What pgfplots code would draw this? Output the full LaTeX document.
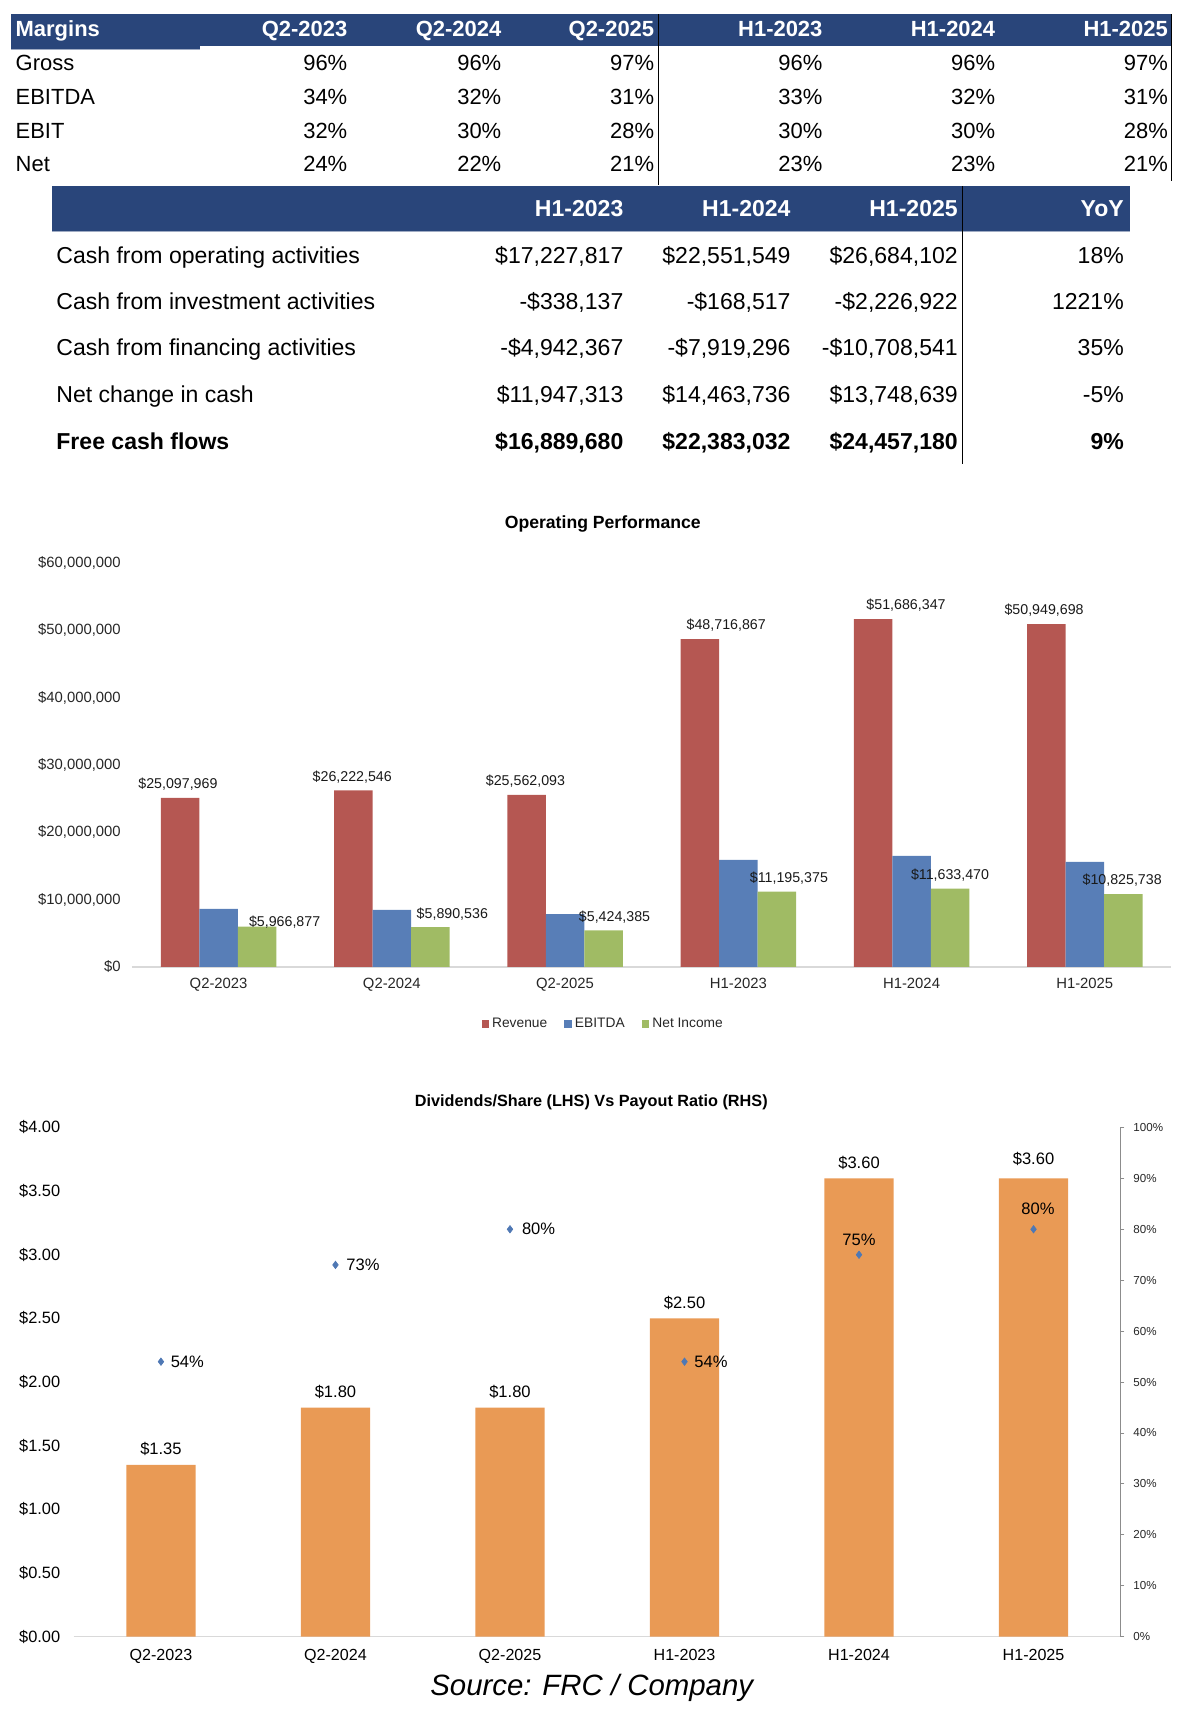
\documentclass[border=0pt]{standalone}
\usepackage{fontspec}
\setmainfont{Liberation Sans}
\usepackage{pgfplots}
\pgfplotsset{compat=1.18}
\usepackage{pgfplotstable}

\definecolor{hdr}{RGB}{41,69,122}
\definecolor{rev}{RGB}{181,87,82}
\definecolor{ebitda}{RGB}{88,126,183}
\definecolor{netinc}{RGB}{160,187,100}
\definecolor{divbar}{RGB}{233,154,85}
\definecolor{payout}{RGB}{79,120,180}
\definecolor{axgray}{RGB}{217,217,217}

\newcommand\tA{\fontsize{14.2}{17}\selectfont}
\newcommand\tB{\fontsize{14.9}{18}\selectfont}

\pgfplotsset{sqlegend/.style={legend image code/.code={\fill[##1] (0mm,-0.85mm) rectangle (1.7mm,0.85mm);}}}

% operating performance
\pgfplotstableread{
x y lab dx dy
0 25097969 \$25,097,969 -2 0
1 26222546 \$26,222,546 -1 0
2 25562093 \$25,562,093 -1 0
3 48716867 \$48,716,867 24 0
4 51686347 \$51,686,347 30 0
5 50949698 \$50,949,698 -2 0
}\revtab
\pgfplotstableread{
x y
0 8600000
1 8450000
2 7850000
3 15900000
4 16500000
5 15600000
}\ebitdatab
\pgfplotstableread{
x y lab dx dy
0 5966877 \$5,966,877 25 -8
1 5890536 \$5,890,536 20 0
2 5424385 \$5,424,385 10 0
3 11195375 \$11,195,375 11 0
4 11633470 \$11,633,470 0 0
5 10825738 \$10,825,738 -1 0
}\nitab

% dividends
\pgfplotstableread{
x y lab dy
0 1.35 \$1.35 0
1 1.80 \$1.80 0
2 1.80 \$1.80 0
3 2.50 \$2.50 0
4 3.60 \$3.60 0
5 3.60 \$3.60 3
}\divtab
\pgfplotstableread{
x y lab dx dy
0 54 54\% 24 0
1 73 73\% 25 0
2 80 80\% 26 0
3 54 54\% 24 0
4 75 75\% 0 14
5 80 80\% 4 19
}\paytab

\begin{document}
\begin{tikzpicture}
\useasboundingbox (0mm,0mm) rectangle (267.75mm,-391.85mm);

% ---- margins table
\fill[hdr] (2.5mm,-3.25mm) rectangle (266.25mm,-10.5mm);
\fill[hdr] (2.5mm,-10.5mm) rectangle (45.5mm,-11.2mm);
\draw[hdr!45,line width=0.5pt] (2.5mm,-11.2mm) -- (45.5mm,-11.2mm);
\node[anchor=base west,inner sep=0pt,text=white,font=\tA\bfseries] at (3.5mm,-8.28mm) {Margins};
\foreach \t/\xx in {Q2-2023/79,Q2-2024/114,Q2-2025/148.75,H1-2023/187,H1-2024/226.25,H1-2025/265.5}
  \node[anchor=base east,inner sep=0pt,text=white,font=\tA\bfseries] at (\xx mm,-8.28mm) {\t};
\foreach \lab/\a/\b/\c/\d/\e/\f [count=\i] in {Gross/96/96/97/96/96/97,EBITDA/34/32/31/33/32/31,EBIT/32/30/28/30/30/28,Net/24/22/21/23/23/21}{
  \pgfmathsetmacro\yy{-16.03-7.67*(\i-1)}
  \node[anchor=base west,inner sep=0pt,font=\tA] at (3.5mm,\yy mm) {\lab};
  \node[anchor=base east,inner sep=0pt,font=\tA] at (79mm,\yy mm) {\a\%};
  \node[anchor=base east,inner sep=0pt,font=\tA] at (114mm,\yy mm) {\b\%};
  \node[anchor=base east,inner sep=0pt,font=\tA] at (148.75mm,\yy mm) {\c\%};
  \node[anchor=base east,inner sep=0pt,font=\tA] at (187mm,\yy mm) {\d\%};
  \node[anchor=base east,inner sep=0pt,font=\tA] at (226.25mm,\yy mm) {\e\%};
  \node[anchor=base east,inner sep=0pt,font=\tA] at (265.5mm,\yy mm) {\f\%};
}
\draw[line width=0.6pt] (149.6mm,-3.25mm) -- (149.6mm,-42mm);
\draw[line width=0.6pt] (266.25mm,-3.25mm) -- (266.25mm,-41.25mm);

% ---- cash flow table
\fill[hdr] (11.75mm,-42.3mm) rectangle (256.75mm,-52.6mm);
\draw[hdr!45,line width=0.5pt] (11.75mm,-52.7mm) -- (256.75mm,-52.7mm);
\foreach \t/\xx in {H1-2023/141.75,H1-2024/179.75,H1-2025/217.75,YoY/255.5}
  \node[anchor=base east,inner sep=0pt,text=white,font=\tB\bfseries] at (\xx mm,-49.13mm) {\t};
\node[anchor=base west,inner sep=0pt,font=\tB] at (12.75mm,-60mm) {Cash from operating activities};
\node[anchor=base east,inner sep=0pt,font=\tB] at (141.75mm,-60mm) {\$17,227,817};
\node[anchor=base east,inner sep=0pt,font=\tB] at (179.75mm,-60mm) {\$22,551,549};
\node[anchor=base east,inner sep=0pt,font=\tB] at (217.75mm,-60mm) {\$26,684,102};
\node[anchor=base east,inner sep=0pt,font=\tB] at (255.5mm,-60mm) {18\%};
\node[anchor=base west,inner sep=0pt,font=\tB] at (12.75mm,-70.38mm) {Cash from investment activities};
\node[anchor=base east,inner sep=0pt,font=\tB] at (141.75mm,-70.38mm) {-\$338,137};
\node[anchor=base east,inner sep=0pt,font=\tB] at (179.75mm,-70.38mm) {-\$168,517};
\node[anchor=base east,inner sep=0pt,font=\tB] at (217.75mm,-70.38mm) {-\$2,226,922};
\node[anchor=base east,inner sep=0pt,font=\tB] at (255.5mm,-70.38mm) {1221\%};
\node[anchor=base west,inner sep=0pt,font=\tB] at (12.75mm,-80.88mm) {Cash from financing activities};
\node[anchor=base east,inner sep=0pt,font=\tB] at (141.75mm,-80.88mm) {-\$4,942,367};
\node[anchor=base east,inner sep=0pt,font=\tB] at (179.75mm,-80.88mm) {-\$7,919,296};
\node[anchor=base east,inner sep=0pt,font=\tB] at (217.75mm,-80.88mm) {-\$10,708,541};
\node[anchor=base east,inner sep=0pt,font=\tB] at (255.5mm,-80.88mm) {35\%};
\node[anchor=base west,inner sep=0pt,font=\tB] at (12.75mm,-91.38mm) {Net change in cash};
\node[anchor=base east,inner sep=0pt,font=\tB] at (141.75mm,-91.38mm) {\$11,947,313};
\node[anchor=base east,inner sep=0pt,font=\tB] at (179.75mm,-91.38mm) {\$14,463,736};
\node[anchor=base east,inner sep=0pt,font=\tB] at (217.75mm,-91.38mm) {\$13,748,639};
\node[anchor=base east,inner sep=0pt,font=\tB] at (255.5mm,-91.38mm) {-5\%};
\node[anchor=base west,inner sep=0pt,font=\tB\bfseries] at (12.75mm,-102.13mm) {Free cash flows};
\node[anchor=base east,inner sep=0pt,font=\tB\bfseries] at (141.75mm,-102.13mm) {\$16,889,680};
\node[anchor=base east,inner sep=0pt,font=\tB\bfseries] at (179.75mm,-102.13mm) {\$22,383,032};
\node[anchor=base east,inner sep=0pt,font=\tB\bfseries] at (217.75mm,-102.13mm) {\$24,457,180};
\node[anchor=base east,inner sep=0pt,font=\tB\bfseries] at (255.5mm,-102.13mm) {9\%};
\draw[line width=0.6pt] (218.75mm,-42.3mm) -- (218.75mm,-105.5mm);

% ---- operating performance chart
\node[font=\fontsize{11.4}{13}\selectfont\bfseries] at (137mm,-119mm) {Operating Performance};
\begin{axis}[
  at={(30mm,-219.75mm)}, anchor=south west,
  width=236.25mm, height=91.75mm, scale only axis,
  xmin=-0.5, xmax=5.5, ymin=0, ymax=60000000,
  scaled y ticks=false,
  ybar=0pt, bar width=8.75mm,
  xtick={0,1,2,3,4,5},
  xticklabels={Q2-2023,Q2-2024,Q2-2025,H1-2023,H1-2024,H1-2025},
  ytick={0,10000000,20000000,30000000,40000000,50000000,60000000},
  yticklabels={\$0,{\$10,000,000},{\$20,000,000},{\$30,000,000},{\$40,000,000},{\$50,000,000},{\$60,000,000}},
  axis x line*=bottom, axis y line*=left,
  x axis line style={draw=axgray,line width=0.9pt,-},
  y axis line style={draw=none},
  major tick length=0pt,
  tick label style={font=\fontsize{9.6}{11}\selectfont, text=black!85},
  yticklabel style={inner sep=0pt, xshift=-2.5mm},
  xticklabel style={inner sep=0pt, yshift=-2.6mm},
  clip=false,
  legend style={at={(0.5,0)}, anchor=center, xshift=-10.9mm, yshift=-13mm,
    draw=none, fill=none, font=\fontsize{8.9}{10}\selectfont, text=black!85,
    legend columns=3, /tikz/every even column/.append style={column sep=3.2mm}},
]
\addplot[fill=rev, draw=none, sqlegend,
  nodes near coords, point meta=explicit symbolic,
  visualization depends on={\thisrow{dx} \as \dx},
  visualization depends on={\thisrow{dy} \as \dy},
  every node near coord/.append style={font=\fontsize{9.2}{10}\selectfont, text=black!90,
    inner sep=0pt, anchor=south, xshift={(\dx)*0.25mm}, yshift={1.6mm+(\dy)*0.25mm}}]
  table[x=x, y=y, meta=lab] {\revtab};
\addplot[fill=ebitda, draw=none, sqlegend] table[x=x, y=y] {\ebitdatab};
\addplot[fill=netinc, draw=none, sqlegend,
  nodes near coords, point meta=explicit symbolic,
  visualization depends on={\thisrow{dx} \as \dx},
  visualization depends on={\thisrow{dy} \as \dy},
  every node near coord/.append style={font=\fontsize{9.2}{10}\selectfont, text=black!90,
    inner sep=0pt, anchor=south, xshift={(\dx)*0.25mm}, yshift={1.6mm+(\dy)*0.25mm}}]
  table[x=x, y=y, meta=lab] {\nitab};
\legend{Revenue, EBITDA, Net Income}
\end{axis}

% ---- dividends chart
\node[font=\fontsize{10.5}{12}\selectfont\bfseries] at (134.4mm,-250.5mm) {Dividends/Share (LHS) Vs Payout Ratio (RHS)};
\begin{axis}[
  at={(16.75mm,-372mm)}, anchor=south west,
  width=238mm, height=115.75mm, scale only axis,
  xmin=-0.5, xmax=5.5, ymin=0, ymax=4,
  ybar, bar width=15.75mm,
  xtick={0,1,2,3,4,5},
  xticklabels={Q2-2023,Q2-2024,Q2-2025,H1-2023,H1-2024,H1-2025},
  ytick={0,0.5,1,1.5,2,2.5,3,3.5,4},
  yticklabels={\$0.00,\$0.50,\$1.00,\$1.50,\$2.00,\$2.50,\$3.00,\$3.50,\$4.00},
  axis x line*=bottom, axis y line*=left,
  x axis line style={draw=axgray,line width=0.9pt,-},
  y axis line style={draw=none},
  major tick length=0pt,
  tick label style={font=\fontsize{10.6}{12}\selectfont},
  yticklabel style={inner sep=0pt, xshift=-3mm},
  xticklabel style={inner sep=0pt, yshift=-2.8mm, font=\fontsize{10.4}{12}\selectfont},
  clip=false,
]
\addplot[fill=divbar, draw=none,
  nodes near coords, point meta=explicit symbolic,
  visualization depends on={\thisrow{dy} \as \dy},
  every node near coord/.append style={font=\fontsize{10.7}{12}\selectfont,
    inner sep=0pt, anchor=south, yshift={2mm+(\dy)*0.25mm}}]
  table[x=x, y=y, meta=lab] {\divtab};
\end{axis}
\begin{axis}[
  at={(16.75mm,-372mm)}, anchor=south west,
  width=238mm, height=115.75mm, scale only axis,
  xmin=-0.5, xmax=5.5, ymin=0, ymax=100,
  hide x axis,
  axis y line*=right,
  y axis line style={draw=black!45,line width=0.6pt,-},
  ytick={0,10,20,30,40,50,60,70,80,90,100},
  yticklabels={0\%,10\%,20\%,30\%,40\%,50\%,60\%,70\%,80\%,90\%,100\%},
  tick align=outside, major tick length=0.8mm,
  ytick style={draw=black!45,line width=0.6pt},
  yticklabel style={font=\fontsize{7.5}{9}\selectfont, inner sep=0pt, xshift=2mm, text=black!85},
  clip=false,
]
\addplot[only marks, mark=diamond*, mark size=2.4pt, color=payout,
  nodes near coords, point meta=explicit symbolic,
  visualization depends on={\thisrow{dx} \as \dx},
  visualization depends on={\thisrow{dy} \as \dy},
  every node near coord/.append style={font=\fontsize{10.7}{12}\selectfont, text=black,
    inner sep=0pt, anchor=center, xshift={(\dx)*0.25mm}, yshift={(\dy)*0.25mm}}]
  table[x=x, y=y, meta=lab] {\paytab};
\end{axis}

\node[font=\fontsize{19}{22}\selectfont\itshape] at (134.5mm,-383.75mm) {Source: FRC / Company};
\end{tikzpicture}
\end{document}
